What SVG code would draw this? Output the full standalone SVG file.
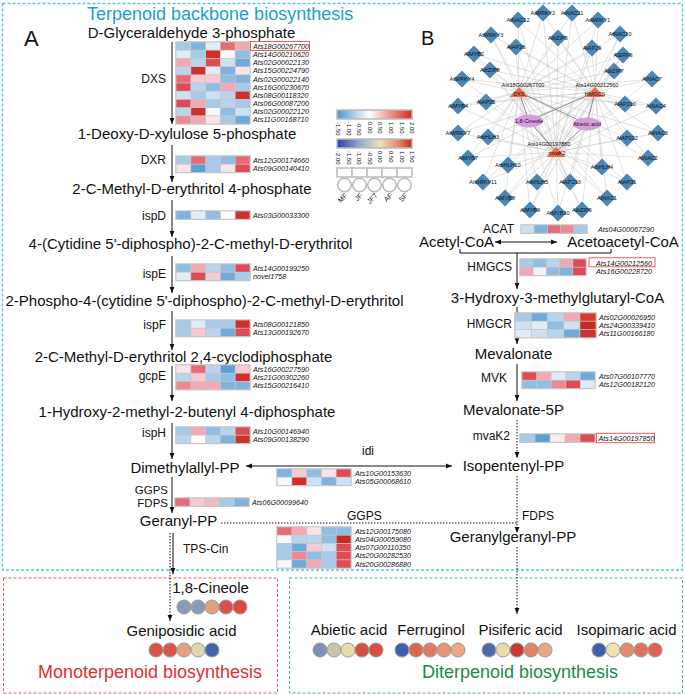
<svg xmlns="http://www.w3.org/2000/svg" xmlns:xlink="http://www.w3.org/1999/xlink" width="685" height="695" viewBox="0 0 685 695">
<style>
text{font-family:"Liberation Sans",Arial,sans-serif;fill:#111}
.cp{font-size:15px;text-anchor:middle}
.en{font-size:12px;text-anchor:end}
.es{font-size:12px}
.gl{font-size:7.2px;font-style:italic}
.nl{font-size:5.5px;text-anchor:middle}
.tk{font-size:6px}
.ar{stroke:#111;stroke-width:1;fill:none}
.dt{stroke:#111;stroke-width:1;fill:none;stroke-dasharray:1.5,1.5}
.hb{fill:#c6c6c6}
.bc{stroke:#999;stroke-width:1}
</style>
<defs>
<marker id="a" viewBox="0 0 10 10" refX="10" refY="5" markerWidth="6" markerHeight="6" markerUnits="userSpaceOnUse" orient="auto-start-reverse"><path d="M0,1L10,5L0,9z" fill="#111"/></marker>
<linearGradient id="g1" x1="0" x2="1" y1="0" y2="0"><stop offset="0" stop-color="#4f92d2"/><stop offset="0.43" stop-color="#ffffff"/><stop offset="1" stop-color="#d3291d"/></linearGradient>
<linearGradient id="g2" x1="0" x2="1" y1="0" y2="0"><stop offset="0" stop-color="#2e3f99"/><stop offset="0.28" stop-color="#86a4d2"/><stop offset="0.57" stop-color="#ebe3b5"/><stop offset="0.8" stop-color="#e8906a"/><stop offset="1" stop-color="#c42a22"/></linearGradient>
<path id="dm" d="M0,-8.5L8.5,0L0,8.5L-8.5,0Z" fill="#4a86b6"/>
</defs>

<!-- section boxes -->
<rect x="2.5" y="3.5" width="680" height="566.5" fill="none" stroke="#55c3e3" stroke-width="1.3" stroke-dasharray="3,2"/>
<rect x="3.5" y="578" width="274" height="115" fill="none" stroke="#e06060" stroke-width="1" stroke-dasharray="3,2"/>
<rect x="289.5" y="578" width="393" height="115" fill="none" stroke="#5aaa80" stroke-width="1" stroke-dasharray="3,2"/>

<text x="87" y="20" style="font-size:18px;fill:#1a9fd4">Terpenoid backbone biosynthesis</text>
<text x="24" y="46" style="font-size:22px">A</text>
<text x="421" y="45" style="font-size:20px">B</text>

<!-- connectors -->
<g id="connectors">
<line class="ar" x1="172" y1="42" x2="172" y2="124" marker-end="url(#a)"/>
<line class="ar" x1="172" y1="145" x2="172" y2="182" marker-end="url(#a)"/>
<line class="ar" x1="172" y1="200" x2="172" y2="237" marker-end="url(#a)"/>
<line class="ar" x1="172" y1="256" x2="172" y2="293" marker-end="url(#a)"/>
<line class="ar" x1="172" y1="311" x2="172" y2="350" marker-end="url(#a)"/>
<line class="ar" x1="172" y1="366" x2="172" y2="401" marker-end="url(#a)"/>
<line class="ar" x1="172" y1="423" x2="172" y2="459" marker-end="url(#a)"/>
<line class="ar" x1="172" y1="477" x2="172" y2="513" marker-end="url(#a)"/>
<line class="ar" x1="173" y1="533" x2="173" y2="574" marker-end="url(#a)"/>
<line class="dt" x1="170" y1="533" x2="170" y2="621" marker-end="url(#a)"/>
<line class="ar" x1="246" y1="466" x2="452" y2="466" marker-start="url(#a)" marker-end="url(#a)"/>
<line class="dt" x1="221" y1="523" x2="517" y2="523"/>
<line class="ar" x1="495" y1="242" x2="557" y2="242" marker-start="url(#a)" marker-end="url(#a)"/>
<polyline class="ar" points="460,249 460,253 611,253 611,249"/>
<line class="ar" x1="517" y1="253" x2="517" y2="289" marker-end="url(#a)"/>
<line class="ar" x1="517" y1="307" x2="517" y2="344" marker-end="url(#a)"/>
<line class="ar" x1="517" y1="364" x2="517" y2="401" marker-end="url(#a)"/>
<line class="dt" x1="517" y1="420" x2="517" y2="458" marker-end="url(#a)"/>
<line class="dt" x1="517" y1="476" x2="517" y2="533" marker-end="url(#a)"/>
<line class="dt" x1="517" y1="547" x2="517" y2="614" marker-end="url(#a)"/>
<!-- network edges -->
<path fill="none" stroke="#c4c4c4" stroke-width="0.5" d="M519,92L543,13L595,92M543,13L556,152M519,92L572,13L595,92M572,13L556,152M519,92L598,20L595,92M598,20L556,152M519,92L518,20L595,92M518,20L556,152M519,92L620,34L595,92M620,34L556,152M519,92L491,35L595,92M491,35L556,152M519,92L558,38L595,92M558,38L556,152M519,92L516,47L595,92M516,47L556,152M519,92L592,48L595,92M592,48L556,152M519,92L474,54L595,92M474,54L556,152M519,92L623,55L595,92M623,55L556,152M519,92L490,70L595,92M490,70L556,152M519,92L614,71L595,92M614,71L556,152M519,92L462,79L595,92M462,79L556,152M519,92L652,79L595,92M652,79L556,152M519,92L458,106L595,92M458,106L556,152M519,92L486,102L595,92M486,102L556,152M519,92L625,104L595,92M625,104L556,152M519,92L656,106L595,92M656,106L556,152M519,92L458,133L595,92M458,133L556,152M519,92L488,137L595,92M488,137L556,152M519,92L627,138L595,92M627,138L556,152M519,92L658,133L595,92M658,133L556,152M519,92L468,158L595,92M468,158L556,152M519,92L648,158L595,92M648,158L556,152M519,92L508,165L595,92M508,165L556,152M519,92L602,167L595,92M602,167L556,152M519,92L483,182L595,92M483,182L556,152M519,92L537,182L595,92M537,182L556,152M519,92L570,182L595,92M570,182L556,152M519,92L627,182L595,92M627,182L556,152M519,92L505,198L595,92M505,198L556,152M519,92L607,198L595,92M607,198L556,152M519,92L530,210L595,92M530,210L556,152M519,92L558,213L595,92M558,213L556,152M519,92L582,210L595,92M582,210L556,152"/>
<path fill="none" stroke="#777" stroke-width="0.8" d="M519,92L529,121M519,92L587,124M595,92L529,121M595,92L587,124M556,152L529,121M556,152L587,124"/>
</g>

<!-- left pathway compounds -->
<g id="c-gap"><text class="cp" x="191.5" y="38">D-Glyceraldehyde 3-phosphate</text></g>
<g id="c-dxp"><text class="cp" x="187" y="138.5">1-Deoxy-D-xylulose 5-phosphate</text></g>
<g id="c-mep"><text class="cp" x="192" y="194">2-C-Methyl-D-erythritol 4-phosphate</text></g>
<g id="c-cdpme"><text class="cp" x="190.5" y="249">4-(Cytidine 5'-diphospho)-2-C-methyl-D-erythritol</text></g>
<g id="c-cdpmep"><text class="cp" x="204.5" y="306">2-Phospho-4-(cytidine 5'-diphospho)-2-C-methyl-D-erythritol</text></g>
<g id="c-mecpp"><text class="cp" x="183.5" y="362">2-C-Methyl-D-erythritol 2,4-cyclodiphosphate</text></g>
<g id="c-hmbpp"><text class="cp" x="187" y="417">1-Hydroxy-2-methyl-2-butenyl 4-diphosphate</text></g>
<g id="c-dmapp"><text class="cp" x="185" y="473">Dimethylallyl-PP</text></g>
<g id="c-gpp"><text class="cp" x="178.5" y="526">Geranyl-PP</text></g>

<!-- right pathway compounds -->
<g id="c-acetyl"><text class="cp" x="456.5" y="247">Acetyl-CoA</text></g>
<g id="c-acetoacetyl"><text class="cp" x="623" y="247">Acetoacetyl-CoA</text></g>
<g id="c-hmg"><text class="cp" x="557.5" y="303">3-Hydroxy-3-methylglutaryl-CoA</text></g>
<g id="c-mva"><text class="cp" x="513.5" y="359">Mevalonate</text></g>
<g id="c-mva5p"><text class="cp" x="513.5" y="415">Mevalonate-5P</text></g>
<g id="c-ipp"><text class="cp" x="513.5" y="471">Isopentenyl-PP</text></g>
<g id="c-ggpp"><text class="cp" x="513" y="542">Geranylgeranyl-PP</text></g>

<!-- enzyme labels -->
<g id="enzymes">
<text class="en" x="166" y="83">DXS</text>
<text class="en" x="166" y="164">DXR</text>
<text class="en" x="166" y="220">ispD</text>
<text class="en" x="166" y="278">ispE</text>
<text class="en" x="166" y="329">ispF</text>
<text class="en" x="166" y="380">gcpE</text>
<text class="en" x="166" y="437">ispH</text>
<text class="en" x="168" y="494" style="font-size:11.5px">GGPS</text>
<text class="en" x="168" y="507" style="font-size:11.5px">FDPS</text>
<text class="es" x="183" y="553">TPS-Cin</text>
<text class="es" x="362" y="455">idi</text>
<text class="es" x="347" y="520">GGPS</text>
<text class="es" x="522" y="520">FDPS</text>
<text class="en" x="514" y="233">ACAT</text>
<text class="en" x="512" y="271">HMGCS</text>
<text class="en" x="512" y="328">HMGCR</text>
<text class="en" x="507" y="382">MVK</text>
<text class="en" x="510" y="440">mvaK2</text>
</g>

<!-- heatmaps -->
<g id="hm-dxs" transform="translate(176,42)">
<rect class="hb" x="-0.8" y="-0.8" width="75.6" height="83.6"/>
<rect x="0.4" y="0.4" width="14" height="7.4" fill="#a6cbe8"/><rect x="15.2" y="0.4" width="14" height="7.4" fill="#7db3de"/><rect x="30" y="0.4" width="14" height="7.4" fill="#e0ecf7"/><rect x="44.8" y="0.4" width="14" height="7.4" fill="#e76a75"/><rect x="59.6" y="0.4" width="14" height="7.4" fill="#f3a9b3"/>
<rect x="0.4" y="8.6" width="14" height="7.4" fill="#e0ecf7"/><rect x="15.2" y="8.6" width="14" height="7.4" fill="#a6cbe8"/><rect x="30" y="8.6" width="14" height="7.4" fill="#d0302a"/><rect x="44.8" y="8.6" width="14" height="7.4" fill="#f7f8fb"/><rect x="59.6" y="8.6" width="14" height="7.4" fill="#8fbde3"/>
<rect x="0.4" y="16.8" width="14" height="7.4" fill="#f3a9b3"/><rect x="15.2" y="16.8" width="14" height="7.4" fill="#b8d5ed"/><rect x="30" y="16.8" width="14" height="7.4" fill="#e04a55"/><rect x="44.8" y="16.8" width="14" height="7.4" fill="#cce1f2"/><rect x="59.6" y="16.8" width="14" height="7.4" fill="#6eaadb"/>
<rect x="0.4" y="25" width="14" height="7.4" fill="#b8d5ed"/><rect x="15.2" y="25" width="14" height="7.4" fill="#d0302a"/><rect x="30" y="25" width="14" height="7.4" fill="#e0ecf7"/><rect x="44.8" y="25" width="14" height="7.4" fill="#7db3de"/><rect x="59.6" y="25" width="14" height="7.4" fill="#fbe3e8"/>
<rect x="0.4" y="33.2" width="14" height="7.4" fill="#e76a75"/><rect x="15.2" y="33.2" width="14" height="7.4" fill="#f8c9d1"/><rect x="30" y="33.2" width="14" height="7.4" fill="#f8c9d1"/><rect x="44.8" y="33.2" width="14" height="7.4" fill="#8fbde3"/><rect x="59.6" y="33.2" width="14" height="7.4" fill="#7db3de"/>
<rect x="0.4" y="41.4" width="14" height="7.4" fill="#e04a55"/><rect x="15.2" y="41.4" width="14" height="7.4" fill="#b8d5ed"/><rect x="30" y="41.4" width="14" height="7.4" fill="#8fbde3"/><rect x="44.8" y="41.4" width="14" height="7.4" fill="#f3a9b3"/><rect x="59.6" y="41.4" width="14" height="7.4" fill="#a6cbe8"/>
<rect x="0.4" y="49.6" width="14" height="7.4" fill="#cce1f2"/><rect x="15.2" y="49.6" width="14" height="7.4" fill="#a6cbe8"/><rect x="30" y="49.6" width="14" height="7.4" fill="#cce1f2"/><rect x="44.8" y="49.6" width="14" height="7.4" fill="#b8d5ed"/><rect x="59.6" y="49.6" width="14" height="7.4" fill="#d0302a"/>
<rect x="0.4" y="57.8" width="14" height="7.4" fill="#e04a55"/><rect x="15.2" y="57.8" width="14" height="7.4" fill="#f3a9b3"/><rect x="30" y="57.8" width="14" height="7.4" fill="#a6cbe8"/><rect x="44.8" y="57.8" width="14" height="7.4" fill="#b8d5ed"/><rect x="59.6" y="57.8" width="14" height="7.4" fill="#a6cbe8"/>
<rect x="0.4" y="66" width="14" height="7.4" fill="#b8d5ed"/><rect x="15.2" y="66" width="14" height="7.4" fill="#d0302a"/><rect x="30" y="66" width="14" height="7.4" fill="#f7f8fb"/><rect x="44.8" y="66" width="14" height="7.4" fill="#8fbde3"/><rect x="59.6" y="66" width="14" height="7.4" fill="#cce1f2"/>
<rect x="0.4" y="74.2" width="14" height="7.4" fill="#ee8893"/><rect x="15.2" y="74.2" width="14" height="7.4" fill="#f3a9b3"/><rect x="30" y="74.2" width="14" height="7.4" fill="#fbe3e8"/><rect x="44.8" y="74.2" width="14" height="7.4" fill="#a6cbe8"/><rect x="59.6" y="74.2" width="14" height="7.4" fill="#6eaadb"/>
</g>
<g id="lb-dxs" class="gl">
<rect x="250.5" y="41.5" width="59" height="9" fill="none" stroke="#e05050" stroke-width="0.9"/>
<text class="gl" x="253" y="48.8">Ats18G00267700</text>
<text class="gl" x="253" y="57">Ats14G00210620</text>
<text class="gl" x="253" y="65.2">Ats02G00022130</text>
<text class="gl" x="253" y="73.4">Ats15G00224790</text>
<text class="gl" x="253" y="81.6">Ats02G00022140</text>
<text class="gl" x="253" y="89.8">Ats16G00230670</text>
<text class="gl" x="253" y="98">Ats08G00118320</text>
<text class="gl" x="253" y="106.2">Ats06G00087200</text>
<text class="gl" x="253" y="114.4">Ats02G00022120</text>
<text class="gl" x="253" y="122.4">Ats11G00168710</text>
</g>

<g id="hm-dxr" transform="translate(176,156)">
<rect class="hb" x="-0.8" y="-0.8" width="75.6" height="18"/>
<rect x="0.4" y="0.4" width="14" height="7.4" fill="#a6cbe8"/><rect x="15.2" y="0.4" width="14" height="7.4" fill="#e76a75"/><rect x="30" y="0.4" width="14" height="7.4" fill="#a6cbe8"/><rect x="44.8" y="0.4" width="14" height="7.4" fill="#8fbde3"/><rect x="59.6" y="0.4" width="14" height="7.4" fill="#e76a75"/>
<rect x="0.4" y="8.6" width="14" height="7.4" fill="#fbe3e8"/><rect x="15.2" y="8.6" width="14" height="7.4" fill="#5b9fd6"/><rect x="30" y="8.6" width="14" height="7.4" fill="#a6cbe8"/><rect x="44.8" y="8.6" width="14" height="7.4" fill="#fbe3e8"/><rect x="59.6" y="8.6" width="14" height="7.4" fill="#e04a55"/>
</g>
<text class="gl" x="253" y="162.8">Ats12G00174660</text>
<text class="gl" x="253" y="171">Ats09G00140410</text>

<g id="hm-ispd" transform="translate(176,211)">
<rect class="hb" x="-0.8" y="-0.8" width="75.6" height="9.8"/>
<rect x="0.4" y="0.4" width="14" height="7.4" fill="#7db3de"/><rect x="15.2" y="0.4" width="14" height="7.4" fill="#e0ecf7"/><rect x="30" y="0.4" width="14" height="7.4" fill="#8fbde3"/><rect x="44.8" y="0.4" width="14" height="7.4" fill="#ffffff"/><rect x="59.6" y="0.4" width="14" height="7.4" fill="#d0302a"/>
</g>
<text class="gl" x="253" y="217.8">Ats03G00033300</text>

<g id="hm-ispe" transform="translate(176,264)">
<rect class="hb" x="-0.8" y="-0.8" width="75.6" height="18"/>
<rect x="0.4" y="0.4" width="14" height="7.4" fill="#8fbde3"/><rect x="15.2" y="0.4" width="14" height="7.4" fill="#f3a9b3"/><rect x="30" y="0.4" width="14" height="7.4" fill="#b8d5ed"/><rect x="44.8" y="0.4" width="14" height="7.4" fill="#8fbde3"/><rect x="59.6" y="0.4" width="14" height="7.4" fill="#e04a55"/>
<rect x="0.4" y="8.6" width="14" height="7.4" fill="#e0ecf7"/><rect x="15.2" y="8.6" width="14" height="7.4" fill="#e04a55"/><rect x="30" y="8.6" width="14" height="7.4" fill="#f8c9d1"/><rect x="44.8" y="8.6" width="14" height="7.4" fill="#6eaadb"/><rect x="59.6" y="8.6" width="14" height="7.4" fill="#a6cbe8"/>
</g>
<text class="gl" x="253" y="270.8">Ats14G00199250</text>
<text class="gl" x="253" y="279">novel1758</text>

<g id="hm-ispf" transform="translate(176,320)">
<rect class="hb" x="-0.8" y="-0.8" width="75.6" height="18"/>
<rect x="0.4" y="0.4" width="14" height="7.4" fill="#a6cbe8"/><rect x="15.2" y="0.4" width="14" height="7.4" fill="#e0ecf7"/><rect x="30" y="0.4" width="14" height="7.4" fill="#a6cbe8"/><rect x="44.8" y="0.4" width="14" height="7.4" fill="#a6cbe8"/><rect x="59.6" y="0.4" width="14" height="7.4" fill="#d0302a"/>
<rect x="0.4" y="8.6" width="14" height="7.4" fill="#a6cbe8"/><rect x="15.2" y="8.6" width="14" height="7.4" fill="#f8c9d1"/><rect x="30" y="8.6" width="14" height="7.4" fill="#b8d5ed"/><rect x="44.8" y="8.6" width="14" height="7.4" fill="#6eaadb"/><rect x="59.6" y="8.6" width="14" height="7.4" fill="#e04a55"/>
</g>
<text class="gl" x="253" y="326.8">Ats08G00121850</text>
<text class="gl" x="253" y="335">Ats13G00192670</text>

<g id="hm-gcpe" transform="translate(176,365)">
<rect class="hb" x="-0.8" y="-0.8" width="75.6" height="26.2"/>
<rect x="0.4" y="0.4" width="14" height="7.4" fill="#fbe3e8"/><rect x="15.2" y="0.4" width="14" height="7.4" fill="#e76a75"/><rect x="30" y="0.4" width="14" height="7.4" fill="#b8d5ed"/><rect x="44.8" y="0.4" width="14" height="7.4" fill="#5b9fd6"/><rect x="59.6" y="0.4" width="14" height="7.4" fill="#f8c9d1"/>
<rect x="0.4" y="8.6" width="14" height="7.4" fill="#b8d5ed"/><rect x="15.2" y="8.6" width="14" height="7.4" fill="#f8c9d1"/><rect x="30" y="8.6" width="14" height="7.4" fill="#a6cbe8"/><rect x="44.8" y="8.6" width="14" height="7.4" fill="#8fbde3"/><rect x="59.6" y="8.6" width="14" height="7.4" fill="#d0302a"/>
<rect x="0.4" y="16.8" width="14" height="7.4" fill="#ee8893"/><rect x="15.2" y="16.8" width="14" height="7.4" fill="#f3a9b3"/><rect x="30" y="16.8" width="14" height="7.4" fill="#f3a9b3"/><rect x="44.8" y="16.8" width="14" height="7.4" fill="#7db3de"/><rect x="59.6" y="16.8" width="14" height="7.4" fill="#7db3de"/>
</g>
<text class="gl" x="253" y="371.8">Ats16G00227590</text>
<text class="gl" x="253" y="380">Ats21G00302260</text>
<text class="gl" x="253" y="388.2">Ats15G00216410</text>

<g id="hm-isph" transform="translate(176,427)">
<rect class="hb" x="-0.8" y="-0.8" width="75.6" height="18"/>
<rect x="0.4" y="0.4" width="14" height="7.4" fill="#a6cbe8"/><rect x="15.2" y="0.4" width="14" height="7.4" fill="#f3a9b3"/><rect x="30" y="0.4" width="14" height="7.4" fill="#8fbde3"/><rect x="44.8" y="0.4" width="14" height="7.4" fill="#b8d5ed"/><rect x="59.6" y="0.4" width="14" height="7.4" fill="#e04a55"/>
<rect x="0.4" y="8.6" width="14" height="7.4" fill="#b8d5ed"/><rect x="15.2" y="8.6" width="14" height="7.4" fill="#ffffff"/><rect x="30" y="8.6" width="14" height="7.4" fill="#b8d5ed"/><rect x="44.8" y="8.6" width="14" height="7.4" fill="#7db3de"/><rect x="59.6" y="8.6" width="14" height="7.4" fill="#d0302a"/>
</g>
<text class="gl" x="253" y="433.8">Ats10G00146940</text>
<text class="gl" x="253" y="442">Ats09G00138290</text>

<g id="hm-ggfd" transform="translate(175,498)">
<rect class="hb" x="-0.8" y="-0.8" width="75.6" height="9.8"/>
<rect x="0.4" y="0.4" width="14" height="7.4" fill="#e76a75"/><rect x="15.2" y="0.4" width="14" height="7.4" fill="#f8c9d1"/><rect x="30" y="0.4" width="14" height="7.4" fill="#f3b9c1"/><rect x="44.8" y="0.4" width="14" height="7.4" fill="#a6cbe8"/><rect x="59.6" y="0.4" width="14" height="7.4" fill="#7db3de"/>
</g>
<text class="gl" x="252" y="504.8">Ats06G00099640</text>

<g id="hm-idi" transform="translate(277,469)">
<rect class="hb" x="-0.8" y="-0.8" width="75.6" height="18"/>
<rect x="0.4" y="0.4" width="14" height="7.4" fill="#7db3de"/><rect x="15.2" y="0.4" width="14" height="7.4" fill="#f8c9d1"/><rect x="30" y="0.4" width="14" height="7.4" fill="#8fbde3"/><rect x="44.8" y="0.4" width="14" height="7.4" fill="#fbe3e8"/><rect x="59.6" y="0.4" width="14" height="7.4" fill="#e04a55"/>
<rect x="0.4" y="8.6" width="14" height="7.4" fill="#f7f8fb"/><rect x="15.2" y="8.6" width="14" height="7.4" fill="#d0302a"/><rect x="30" y="8.6" width="14" height="7.4" fill="#cce1f2"/><rect x="44.8" y="8.6" width="14" height="7.4" fill="#7db3de"/><rect x="59.6" y="8.6" width="14" height="7.4" fill="#cce1f2"/>
</g>
<text class="gl" x="355" y="475.8">Ats10G00153630</text>
<text class="gl" x="355" y="484">Ats05G00068610</text>

<g id="hm-ggps" transform="translate(277,527)">
<rect class="hb" x="-0.8" y="-0.8" width="75.6" height="42.6"/>
<rect x="0.4" y="0.4" width="14" height="7.4" fill="#e76a75"/><rect x="15.2" y="0.4" width="14" height="7.4" fill="#f3a9b3"/><rect x="30" y="0.4" width="14" height="7.4" fill="#fbe3e8"/><rect x="44.8" y="0.4" width="14" height="7.4" fill="#8fbde3"/><rect x="59.6" y="0.4" width="14" height="7.4" fill="#8fbde3"/>
<rect x="0.4" y="8.6" width="14" height="7.4" fill="#f7f8fb"/><rect x="15.2" y="8.6" width="14" height="7.4" fill="#b8d5ed"/><rect x="30" y="8.6" width="14" height="7.4" fill="#b8d5ed"/><rect x="44.8" y="8.6" width="14" height="7.4" fill="#8fbde3"/><rect x="59.6" y="8.6" width="14" height="7.4" fill="#c82a20"/>
<rect x="0.4" y="16.8" width="14" height="7.4" fill="#a6cbe8"/><rect x="15.2" y="16.8" width="14" height="7.4" fill="#6eaadb"/><rect x="30" y="16.8" width="14" height="7.4" fill="#f8c9d1"/><rect x="44.8" y="16.8" width="14" height="7.4" fill="#cce1f2"/><rect x="59.6" y="16.8" width="14" height="7.4" fill="#e04a55"/>
<rect x="0.4" y="25" width="14" height="7.4" fill="#a6cbe8"/><rect x="15.2" y="25" width="14" height="7.4" fill="#ee8893"/><rect x="30" y="25" width="14" height="7.4" fill="#8fbde3"/><rect x="44.8" y="25" width="14" height="7.4" fill="#a6cbe8"/><rect x="59.6" y="25" width="14" height="7.4" fill="#e04a55"/>
<rect x="0.4" y="33.2" width="14" height="7.4" fill="#f7f8fb"/><rect x="15.2" y="33.2" width="14" height="7.4" fill="#6eaadb"/><rect x="30" y="33.2" width="14" height="7.4" fill="#f3a9b3"/><rect x="44.8" y="33.2" width="14" height="7.4" fill="#a6cbe8"/><rect x="59.6" y="33.2" width="14" height="7.4" fill="#e04a55"/>
</g>
<text class="gl" x="355" y="533.8">Ats12G00175080</text>
<text class="gl" x="355" y="542">Ats04G00059080</text>
<text class="gl" x="355" y="550.2">Ats07G00110350</text>
<text class="gl" x="355" y="558.4">Ats20G00282530</text>
<text class="gl" x="355" y="566.6">Ats20G00286880</text>

<g id="hm-acat" transform="translate(521,225) scale(0.892,1)">
<rect class="hb" x="-0.8" y="-0.8" width="75.6" height="9.8"/>
<rect x="0.4" y="0.4" width="14" height="7.4" fill="#cce1f2"/><rect x="15.2" y="0.4" width="14" height="7.4" fill="#7db3de"/><rect x="30" y="0.4" width="14" height="7.4" fill="#e76a75"/><rect x="44.8" y="0.4" width="14" height="7.4" fill="#ee8893"/><rect x="59.6" y="0.4" width="14" height="7.4" fill="#a6cbe8"/>
</g>
<text class="gl" x="598" y="231.8">Ats04G00067290</text>

<g id="hm-hmgcs" transform="translate(520,259) scale(0.892,1)">
<rect class="hb" x="-0.8" y="-0.8" width="75.6" height="18"/>
<rect x="0.4" y="0.4" width="14" height="7.4" fill="#a6cbe8"/><rect x="15.2" y="0.4" width="14" height="7.4" fill="#8fbde3"/><rect x="30" y="0.4" width="14" height="7.4" fill="#b8d5ed"/><rect x="44.8" y="0.4" width="14" height="7.4" fill="#f3a9b3"/><rect x="59.6" y="0.4" width="14" height="7.4" fill="#e04a55"/>
<rect x="0.4" y="8.6" width="14" height="7.4" fill="#f3a9b3"/><rect x="15.2" y="8.6" width="14" height="7.4" fill="#f0f4fa"/><rect x="30" y="8.6" width="14" height="7.4" fill="#8fbde3"/><rect x="44.8" y="8.6" width="14" height="7.4" fill="#7db3de"/><rect x="59.6" y="8.6" width="14" height="7.4" fill="#e04a55"/>
</g>
<rect x="589" y="257.8" width="66" height="9" fill="none" stroke="#e05050" stroke-width="0.9"/>
<text class="gl" x="596" y="265.8">Ats14G00212560</text>
<text class="gl" x="596" y="274">Ats16G00228720</text>

<g id="hm-hmgcr" transform="translate(515,313) scale(1.095,1)">
<rect class="hb" x="-0.8" y="-0.8" width="75.6" height="26.2"/>
<rect x="0.4" y="0.4" width="14" height="7.4" fill="#a6cbe8"/><rect x="15.2" y="0.4" width="14" height="7.4" fill="#6eaadb"/><rect x="30" y="0.4" width="14" height="7.4" fill="#b8d5ed"/><rect x="44.8" y="0.4" width="14" height="7.4" fill="#f3a9b3"/><rect x="59.6" y="0.4" width="14" height="7.4" fill="#d83a30"/>
<rect x="0.4" y="8.6" width="14" height="7.4" fill="#cce1f2"/><rect x="15.2" y="8.6" width="14" height="7.4" fill="#e0ecf7"/><rect x="30" y="8.6" width="14" height="7.4" fill="#8fbde3"/><rect x="44.8" y="8.6" width="14" height="7.4" fill="#cce1f2"/><rect x="59.6" y="8.6" width="14" height="7.4" fill="#c82a20"/>
<rect x="0.4" y="16.8" width="14" height="7.4" fill="#e0ecf7"/><rect x="15.2" y="16.8" width="14" height="7.4" fill="#cce1f2"/><rect x="30" y="16.8" width="14" height="7.4" fill="#b8d5ed"/><rect x="44.8" y="16.8" width="14" height="7.4" fill="#6eaadb"/><rect x="59.6" y="16.8" width="14" height="7.4" fill="#d0302a"/>
</g>
<text class="gl" x="599" y="319.8">Ats02G00026950</text>
<text class="gl" x="599" y="328">Ats24G00339410</text>
<text class="gl" x="599" y="336.2">Ats11G00166180</text>

<g id="hm-mvk" transform="translate(522,372) scale(0.986,1)">
<rect class="hb" x="-0.8" y="-0.8" width="75.6" height="18"/>
<rect x="0.4" y="0.4" width="14" height="7.4" fill="#e04a55"/><rect x="15.2" y="0.4" width="14" height="7.4" fill="#f3a9b3"/><rect x="30" y="0.4" width="14" height="7.4" fill="#e0ecf7"/><rect x="44.8" y="0.4" width="14" height="7.4" fill="#b8d5ed"/><rect x="59.6" y="0.4" width="14" height="7.4" fill="#6eaadb"/>
<rect x="0.4" y="8.6" width="14" height="7.4" fill="#8fbde3"/><rect x="15.2" y="8.6" width="14" height="7.4" fill="#8fbde3"/><rect x="30" y="8.6" width="14" height="7.4" fill="#ee8893"/><rect x="44.8" y="8.6" width="14" height="7.4" fill="#e04a55"/><rect x="59.6" y="8.6" width="14" height="7.4" fill="#e0ecf7"/>
</g>
<text class="gl" x="599" y="378.8">Ats07G00107770</text>
<text class="gl" x="599" y="387">Ats12G00182120</text>

<g id="hm-mvak2" transform="translate(520,434) scale(1.013,1)">
<rect class="hb" x="-0.8" y="-0.8" width="75.6" height="9.8"/>
<rect x="0.4" y="0.4" width="14" height="7.4" fill="#a6cbe8"/><rect x="15.2" y="0.4" width="14" height="7.4" fill="#5b9fd6"/><rect x="30" y="0.4" width="14" height="7.4" fill="#fdeef0"/><rect x="44.8" y="0.4" width="14" height="7.4" fill="#f3a9b3"/><rect x="59.6" y="0.4" width="14" height="7.4" fill="#e04a55"/>
</g>
<rect x="596.5" y="433.3" width="58" height="9.4" fill="none" stroke="#e05050" stroke-width="0.9"/>
<text class="gl" x="598.5" y="440.8">Ats14G00197850</text>

<!-- legend -->
<g id="legend">
<rect x="337" y="110" width="75" height="9" fill="url(#g1)" stroke="#bbb" stroke-width="1.5"/>
<g class="tk">
<text class="tk" transform="translate(336,122) rotate(90)">-1.50</text>
<text class="tk" transform="translate(346.6,122) rotate(90)">-1.00</text>
<text class="tk" transform="translate(357.2,122) rotate(90)">-0.50</text>
<text class="tk" transform="translate(367.8,122) rotate(90)">0.00</text>
<text class="tk" transform="translate(378.4,122) rotate(90)">0.50</text>
<text class="tk" transform="translate(389,122) rotate(90)">1.00</text>
<text class="tk" transform="translate(399.6,122) rotate(90)">1.50</text>
<text class="tk" transform="translate(410.2,122) rotate(90)">2.00</text>
</g>
<rect x="337" y="139" width="75" height="9" fill="url(#g2)" stroke="#bbb" stroke-width="1.5"/>
<g class="tk">
<text class="tk" transform="translate(336,151) rotate(90)">-2.00</text>
<text class="tk" transform="translate(346.6,151) rotate(90)">-1.50</text>
<text class="tk" transform="translate(357.2,151) rotate(90)">-1.00</text>
<text class="tk" transform="translate(367.8,151) rotate(90)">-0.50</text>
<text class="tk" transform="translate(378.4,151) rotate(90)">0.00</text>
<text class="tk" transform="translate(389,151) rotate(90)">0.50</text>
<text class="tk" transform="translate(399.6,151) rotate(90)">1.00</text>
<text class="tk" transform="translate(410.2,151) rotate(90)">1.50</text>
</g>
<g fill="#fff" stroke="#bbb" stroke-width="1.5">
<rect x="337" y="168" width="15" height="9"/><rect x="352" y="168" width="15" height="9"/><rect x="367" y="168" width="15" height="9"/><rect x="382" y="168" width="15" height="9"/><rect x="397" y="168" width="15" height="9"/>
<circle cx="344.5" cy="185" r="6.8"/><circle cx="359.5" cy="185" r="6.8"/><circle cx="374.5" cy="185" r="6.8"/><circle cx="389.5" cy="185" r="6.8"/><circle cx="404.5" cy="185" r="6.8"/>
</g>
<text style="font-size:7px;text-anchor:end" transform="translate(348,196) rotate(-45)">MF</text>
<text style="font-size:7px;text-anchor:end" transform="translate(363,196) rotate(-45)">JF</text>
<text style="font-size:7px;text-anchor:end" transform="translate(378,196) rotate(-45)">JF7</text>
<text style="font-size:7px;text-anchor:end" transform="translate(393,196) rotate(-45)">AF</text>
<text style="font-size:7px;text-anchor:end" transform="translate(408,196) rotate(-45)">SF</text>
</g>

<!-- network nodes -->
<g id="n-AtWRKY2"><use href="#dm" x="543" y="13"/><text class="nl" x="543" y="15">AtWRKY2</text></g>
<g id="n-AtNAC11"><use href="#dm" x="572" y="13"/><text class="nl" x="572" y="15">AtNAC11</text></g>
<g id="n-AtWRKY1"><use href="#dm" x="598" y="20"/><text class="nl" x="598" y="22">AtWRKY1</text></g>
<g id="n-AtNAC12"><use href="#dm" x="518" y="20"/><text class="nl" x="518" y="22">AtNAC12</text></g>
<g id="n-AtNAC10"><use href="#dm" x="620" y="34"/><text class="nl" x="620" y="36">AtNAC10</text></g>
<g id="n-AtWRKY3"><use href="#dm" x="491" y="35"/><text class="nl" x="491" y="37">AtWRKY3</text></g>
<g id="n-AtbZIP5"><use href="#dm" x="558" y="38"/><text class="nl" x="558" y="40">AtbZIP5</text></g>
<g id="n-AtAP26"><use href="#dm" x="516" y="47"/><text class="nl" x="516" y="49">AtAP26</text></g>
<g id="n-AtAP29"><use href="#dm" x="592" y="48"/><text class="nl" x="592" y="50">AtAP29</text></g>
<g id="n-AtMYB2"><use href="#dm" x="474" y="54"/><text class="nl" x="474" y="56">AtMYB2</text></g>
<g id="n-AtERF6"><use href="#dm" x="623" y="55"/><text class="nl" x="623" y="57">AtERF6</text></g>
<g id="n-AtbZIP8"><use href="#dm" x="490" y="70"/><text class="nl" x="490" y="72">AtbZIP8</text></g>
<g id="n-AtbZIP7"><use href="#dm" x="614" y="71"/><text class="nl" x="614" y="73">AtbZIP7</text></g>
<g id="n-AtWRKY4"><use href="#dm" x="462" y="79"/><text class="nl" x="462" y="81">AtWRKY4</text></g>
<g id="n-AtNAC7"><use href="#dm" x="652" y="79"/><text class="nl" x="652" y="81">AtNAC7</text></g>
<g id="n-AtMYB4"><use href="#dm" x="458" y="106"/><text class="nl" x="458" y="108">AtMYB4</text></g>
<g id="n-AtAP25"><use href="#dm" x="486" y="102"/><text class="nl" x="486" y="104">AtAP25</text></g>
<g id="n-AtAP210"><use href="#dm" x="625" y="104"/><text class="nl" x="625" y="106">AtAP210</text></g>
<g id="n-AtNAC4"><use href="#dm" x="656" y="106"/><text class="nl" x="656" y="108">AtNAC4</text></g>
<g id="n-AtWRKY7"><use href="#dm" x="458" y="133"/><text class="nl" x="458" y="135">AtWRKY7</text></g>
<g id="n-AtbHLH3"><use href="#dm" x="488" y="137"/><text class="nl" x="488" y="139">AtbHLH3</text></g>
<g id="n-AtAP212"><use href="#dm" x="627" y="138"/><text class="nl" x="627" y="140">AtAP212</text></g>
<g id="n-AtNAC3"><use href="#dm" x="658" y="133"/><text class="nl" x="658" y="135">AtNAC3</text></g>
<g id="n-AtMYB7"><use href="#dm" x="468" y="158"/><text class="nl" x="468" y="160">AtMYB7</text></g>
<g id="n-AtNAC2"><use href="#dm" x="648" y="158"/><text class="nl" x="648" y="160">AtNAC2</text></g>
<g id="n-AtbHLH10"><use href="#dm" x="508" y="165"/><text class="nl" x="508" y="167">AtbHLH10</text></g>
<g id="n-AtbHLH4"><use href="#dm" x="602" y="167"/><text class="nl" x="602" y="169">AtbHLH4</text></g>
<g id="n-AtWRKY11"><use href="#dm" x="483" y="182"/><text class="nl" x="483" y="184">AtWRKY11</text></g>
<g id="n-AtbHLH5"><use href="#dm" x="537" y="182"/><text class="nl" x="537" y="184">AtbHLH5</text></g>
<g id="n-AtAP213"><use href="#dm" x="570" y="182"/><text class="nl" x="570" y="184">AtAP213</text></g>
<g id="n-AtAP31"><use href="#dm" x="627" y="182"/><text class="nl" x="627" y="184">AtAP31</text></g>
<g id="n-AtMYB8"><use href="#dm" x="505" y="198"/><text class="nl" x="505" y="200">AtMYB8</text></g>
<g id="n-AtNAC1"><use href="#dm" x="607" y="198"/><text class="nl" x="607" y="200">AtNAC1</text></g>
<g id="n-AtMYB9"><use href="#dm" x="530" y="210"/><text class="nl" x="530" y="212">AtMYB9</text></g>
<g id="n-AtMYB10"><use href="#dm" x="558" y="213"/><text class="nl" x="558" y="215">AtMYB10</text></g>
<g id="n-AtbZIP6"><use href="#dm" x="582" y="210"/><text class="nl" x="582" y="212">AtbZIP6</text></g>
<g id="n-DXS"><polygon points="519,87 509.5,97 528.5,97" fill="#f06a48"/><text class="nl" x="523" y="87">Ats18G00267700</text><text class="nl" x="519" y="96">DXS</text></g>
<g id="n-HMGCS"><polygon points="595,87 585.5,97 604.5,97" fill="#f06a48"/><text class="nl" x="597" y="87">Ats14G00212560</text><text class="nl" x="595" y="96">HMGCS</text></g>
<g id="n-mvaK2"><polygon points="556,147 546.5,157 565.5,157" fill="#f06a48"/><text class="nl" x="549" y="146">Ats14G00197850</text><text class="nl" x="557" y="155">mvaK2</text></g>
<g id="n-cineole"><ellipse cx="529" cy="121" rx="14" ry="6.5" fill="#d99be2"/><text class="nl" x="529" y="123">1,8-Cineole</text></g>
<g id="n-abietic"><ellipse cx="587" cy="124" rx="14" ry="6.5" fill="#d99be2"/><text class="nl" x="587" y="126">Abietic acid</text></g>

<!-- bottom: monoterpenoid -->
<g id="m-cineole">
<text class="cp" x="210.5" y="593">1,8-Cineole</text>
<g class="bc"><circle cx="184" cy="607" r="7" fill="#8a9bb5"/><circle cx="198" cy="607" r="7" fill="#8a9bb5"/><circle cx="212" cy="607" r="7" fill="#e2a07e"/><circle cx="226" cy="607" r="7" fill="#d9534a"/><circle cx="240" cy="607" r="7" fill="#d94a45"/></g>
</g>
<g id="m-geniposidic">
<text class="cp" x="181.5" y="636">Geniposidic acid</text>
<g class="bc"><circle cx="156" cy="650" r="7" fill="#d95548"/><circle cx="170" cy="650" r="7" fill="#d95548"/><circle cx="184" cy="650" r="7" fill="#e3a07e"/><circle cx="198" cy="650" r="7" fill="#ddd7ae"/><circle cx="212" cy="650" r="7" fill="#4565aa"/></g>
</g>
<text x="150" y="678" style="font-size:18px;text-anchor:middle;fill:#e03030">Monoterpenoid biosynthesis</text>

<!-- bottom: diterpenoid -->
<g id="d-abietic">
<text class="cp" x="349" y="635">Abietic acid</text>
<g class="bc"><circle cx="320" cy="650" r="7" fill="#7d8fb5"/><circle cx="334" cy="650" r="7" fill="#c7c6a9"/><circle cx="348" cy="650" r="7" fill="#e8dcaa"/><circle cx="362" cy="650" r="7" fill="#d84c44"/><circle cx="376" cy="650" r="7" fill="#d84c44"/></g>
</g>
<g id="d-ferruginol">
<text class="cp" x="431" y="635">Ferruginol</text>
<g class="bc"><circle cx="402" cy="650" r="7" fill="#3f5fac"/><circle cx="416" cy="650" r="7" fill="#de6650"/><circle cx="430" cy="650" r="7" fill="#e07a62"/><circle cx="444" cy="650" r="7" fill="#e69474"/><circle cx="458" cy="650" r="7" fill="#e8a882"/></g>
</g>
<g id="d-pisiferic">
<text class="cp" x="520.5" y="635">Pisiferic acid</text>
<g class="bc"><circle cx="489" cy="650" r="7" fill="#4d6aa8"/><circle cx="503" cy="650" r="7" fill="#ecdaa8"/><circle cx="517" cy="650" r="7" fill="#c93a30"/><circle cx="531" cy="650" r="7" fill="#e08364"/><circle cx="545" cy="650" r="7" fill="#e8a882"/></g>
</g>
<g id="d-isopimaric">
<text class="cp" x="626.5" y="635">Isopimaric acid</text>
<g class="bc"><circle cx="599" cy="650" r="7" fill="#3f5fac"/><circle cx="613" cy="650" r="7" fill="#ede2b0"/><circle cx="627" cy="650" r="7" fill="#e38a70"/><circle cx="641" cy="650" r="7" fill="#e0705c"/><circle cx="655" cy="650" r="7" fill="#df6253"/></g>
</g>
<text x="520" y="678" style="font-size:18px;text-anchor:middle;fill:#1a8a4a">Diterpenoid biosynthesis</text>
</svg>
